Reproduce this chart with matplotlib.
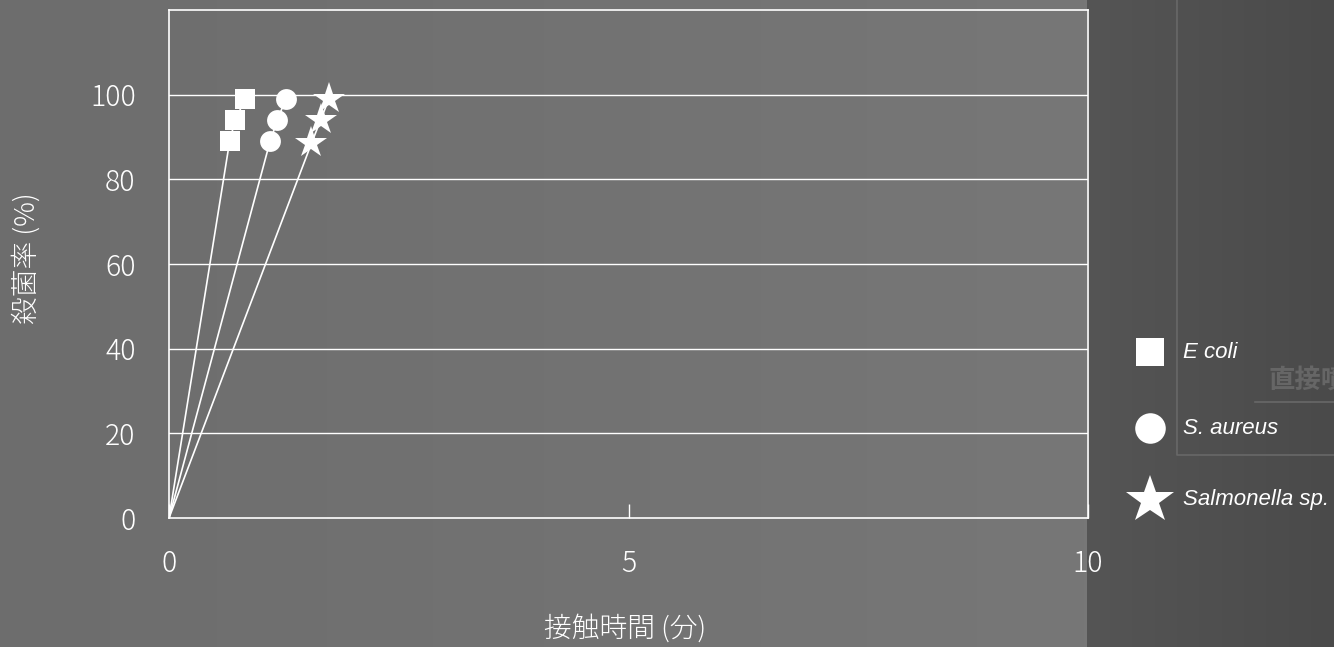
import numpy as np
import matplotlib
matplotlib.use('Agg')
from matplotlib import pyplot as plt

plt.rcParams['font.family'] = ['Noto Sans CJK JP', 'DejaVu Sans']

# Data
series_names = ['E coli', 'S. aureus', 'Salmonella sp.']
ecoli_time = [0.66, 0.72, 0.83]
ecoli_kill = [89, 94, 99]
saureus_time = [1.10, 1.18, 1.27]
saureus_kill = [89, 94, 99]
salmo_time = [1.55, 1.65, 1.74]
salmo_kill = [88.5, 94, 99]
x_ticks = [0, 5, 10]
y_ticks = [0, 20, 40, 60, 80, 100]

W, H = 1334, 647
fig = plt.figure(figsize=(W / 100, H / 100), dpi=100)

# Background: light gray gradient on the left, dark panel on the right
bg = fig.add_axes([0, 0, 1, 1])
bg.set_xlim(0, W)
bg.set_ylim(H, 0)
bg.axis('off')
grad = np.linspace(0, 1, 256)[None, :]
light = matplotlib.colors.LinearSegmentedColormap.from_list('g', ['#6d6d6d', '#777777'])
dark = matplotlib.colors.LinearSegmentedColormap.from_list('d', ['#555555', '#4a4a4a'])
bg.imshow(grad, extent=[0, 1088, H, 0], cmap=light, aspect='auto')
bg.imshow(grad, extent=[1087, W, H, 0], cmap=dark, aspect='auto')
bg.plot([1177, 1177, W], [0, 455, 455], color='#686868', lw=1.2)
bg.text(1268, 380, '直接噴霧', color='#666666', fontsize=19, fontweight='bold',
        va='center', ha='left')
bg.plot([1255, W], [402, 402], color='#686868', lw=1.2)

# Main plot
ax = fig.add_axes([169 / W, (H - 518) / H, (1088 - 169) / W, (518 - 10) / H])
ax.patch.set_alpha(0)
ax.set_xlim(0, 10)
ax.set_ylim(0, 120)
for s in ax.spines.values():
    s.set_color('white')
    s.set_linewidth(1.2)
for yv in y_ticks[1:]:
    ax.axhline(yv, color='white', lw=1.0)

data = [(ecoli_time, ecoli_kill, 's', 14), (saureus_time, saureus_kill, 'o', 15),
        (salmo_time, salmo_kill, '*', 24)]
for t, k, m, ms in data:
    ax.plot([0] + t, [0] + k, color='white', lw=1.2)
    ax.plot(t, k, ls='none', marker=m, color='white', markersize=ms, markeredgewidth=0)

ax.set_xticks(x_ticks)
ax.set_yticks(y_ticks)
ax.tick_params(axis='x', direction='in', length=10, width=1, color='white',
               labelcolor='white', labelsize=20.5, pad=22)
ax.tick_params(axis='y', length=0, labelcolor='white', labelsize=20.5, pad=24)
for lab in ax.get_xticklabels() + ax.get_yticklabels():
    lab.set_fontweight('light')

ax.set_xlabel('接触時間 (分)', color='white', fontsize=20, fontweight='light')
ax.xaxis.set_label_coords((625 - 169) / 919, -(614 - 518) / 508)
ax.set_ylabel('殺菌率 (%)', color='white', fontsize=20, fontweight='light')
ax.yaxis.label.set_va('center')
ax.yaxis.set_label_coords((26 - 169) / 919, (518 - 258) / 508)

# Legend drawn by hand on the right panel
leg_y = [352, 428, 500]
leg_m = [('s', 20), ('o', 22), ('*', 36)]
for name, ly, (m, ms) in zip(series_names, leg_y, leg_m):
    bg.plot([1150], [ly], ls='none', marker=m, color='white', markersize=ms, markeredgewidth=0)
    bg.text(1183, ly, name, color='white', fontsize=16, style='italic',
            family='Liberation Sans', va='center', ha='left')

fig.savefig('out.png', dpi=100)
